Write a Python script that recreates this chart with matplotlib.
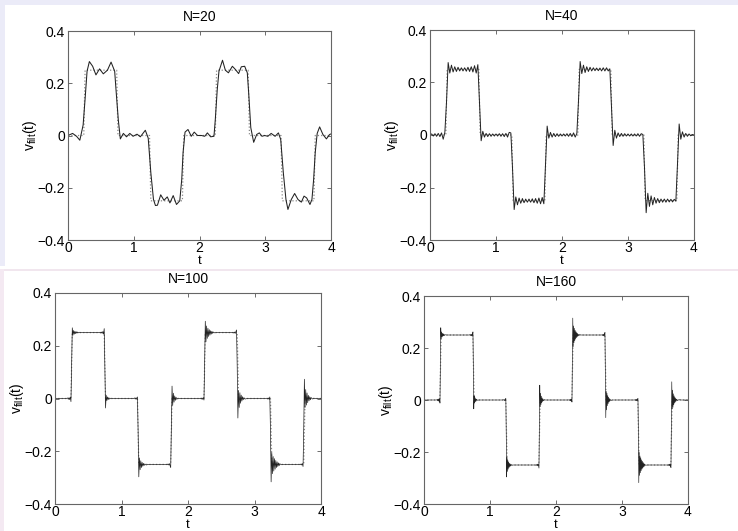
import matplotlib.pyplot as plt
import numpy as np
from matplotlib.patches import Rectangle

plt.rcParams['font.family'] = ['Liberation Sans', 'DejaVu Sans']

# ideal signal (dotted)
ref_t = [0, 0.24, 0.26, 0.74, 0.76, 1.24, 1.26, 1.74, 1.76,
         2.24, 2.26, 2.74, 2.76, 3.24, 3.26, 3.74, 3.76, 4]
ref_v = [0, 0, 0.25, 0.25, 0, 0, -0.25, -0.25, 0,
         0, 0.25, 0.25, 0, 0, -0.25, -0.25, 0, 0]

# N=20
t20 = [0, 0.07, 0.13, 0.18, 0.23, 0.26, 0.29, 0.325, 0.375, 0.425,
       0.48, 0.537, 0.6, 0.655, 0.71, 0.73, 0.765, 0.796, 0.842, 0.89,
       0.94, 0.99, 1.05, 1.1, 1.176, 1.22, 1.26, 1.3, 1.33, 1.36,
       1.41, 1.46, 1.51, 1.55, 1.6, 1.65, 1.7, 1.73, 1.75, 1.78,
       1.825, 1.875, 1.92, 1.97, 2.03, 2.08, 2.12, 2.17, 2.22, 2.24,
       2.27, 2.296, 2.35, 2.393, 2.44, 2.5, 2.545, 2.595, 2.636, 2.687,
       2.727, 2.748, 2.78, 2.824, 2.87, 2.91, 2.95, 2.99, 3.04, 3.09,
       3.15, 3.2, 3.235, 3.275, 3.315, 3.345, 3.396, 3.447, 3.498, 3.549,
       3.59, 3.63, 3.68, 3.71, 3.736, 3.76, 3.79, 3.827, 3.877, 3.93,
       3.98, 4.0]
v20 = [0, 0.008, -0.003, -0.018, 0.04, 0.14, 0.246, 0.283, 0.265, 0.232,
       0.255, 0.236, 0.25, 0.281, 0.246, 0.176, 0.06, -0.013, 0.008, -0.005,
       0.008, -0.003, 0.005, -0.005, 0.02, -0.01, -0.143, -0.245, -0.268, -0.267,
       -0.227, -0.248, -0.235, -0.258, -0.23, -0.264, -0.25, -0.168, -0.066, 0.013,
       0.023, -0.003, 0.013, 0.0, 0.0, -0.003, 0.01, -0.005, -0.003, 0.06,
       0.176, 0.246, 0.288, 0.25, 0.24, 0.265, 0.253, 0.237, 0.263, 0.265,
       0.24, 0.163, 0.03, -0.026, 0.004, 0.01, -0.003, 0.0, -0.003, 0.008,
       -0.003, 0.01, -0.015, -0.143, -0.245, -0.283, -0.245, -0.222, -0.245, -0.255,
       -0.232, -0.239, -0.264, -0.245, -0.168, -0.066, 0.008, 0.033, 0.004, -0.013,
       0.004, 0.006]

# N=40, sampled every 0.025
v40 = [0.000, 0.004, -0.004, 0.005, -0.005, 0.006, -0.006, 0.008, -0.016, 0.010,
       0.125, 0.276, 0.236, 0.266, 0.240, 0.260, 0.242, 0.258, 0.244, 0.256,
       0.244, 0.256, 0.243, 0.258, 0.242, 0.260, 0.240, 0.264, 0.236, 0.268,
       0.125, -0.022, 0.014, -0.008, 0.006, -0.006, 0.005, -0.005, 0.004, -0.004,
       0.004, -0.004, 0.005, -0.005, 0.005, -0.006, 0.006, -0.008, 0.010, 0.008,
       -0.125, -0.284, -0.236, -0.266, -0.240, -0.260, -0.242, -0.258, -0.244, -0.256,
       -0.244, -0.256, -0.243, -0.258, -0.242, -0.260, -0.240, -0.262, -0.238, -0.262,
       -0.110, 0.034, -0.012, 0.010, -0.008, 0.006, -0.006, 0.005, -0.005, 0.004,
       -0.004, 0.004, -0.004, 0.005, -0.005, 0.006, -0.006, 0.008, -0.008, 0.006,
       0.130, 0.280, 0.234, 0.266, 0.238, 0.260, 0.242, 0.258, 0.244, 0.256,
       0.245, 0.255, 0.245, 0.255, 0.244, 0.256, 0.244, 0.256, 0.244, 0.252,
       0.110, -0.040, 0.018, -0.012, 0.008, -0.006, 0.006, -0.005, 0.005, -0.004,
       0.004, -0.004, 0.004, -0.004, 0.004, -0.004, 0.005, -0.005, 0.005, 0.002,
       -0.125, -0.296, -0.222, -0.272, -0.232, -0.266, -0.238, -0.260, -0.242, -0.258,
       -0.244, -0.256, -0.244, -0.256, -0.244, -0.255, -0.245, -0.255, -0.245, -0.252,
       -0.110, 0.042, -0.016, 0.012, -0.008, 0.006, -0.005, 0.004, -0.003, 0.002,
       0.000]
t40 = np.arange(len(v40)) * 0.025
assert len(v40) == 161

# N=100
t100 = [0, 0.17, 0.19, 0.20, 0.21, 0.22, 0.23, 0.24, 0.25, 0.26, 0.27, 0.28, 0.29, 0.30,
        0.31, 0.32, 0.33, 0.34, 0.35, 0.37, 0.40, 0.65,
        0.68, 0.69, 0.70, 0.71, 0.72, 0.73, 0.74, 0.75, 0.76, 0.77, 0.78, 0.79, 0.80,
        0.81, 0.82, 0.84, 0.87, 1.18,
        1.20, 1.21, 1.22, 1.23, 1.24, 1.25, 1.26, 1.27, 1.28, 1.29, 1.30, 1.31, 1.32,
        1.33, 1.34, 1.35, 1.37, 1.40, 1.68,
        1.69, 1.70, 1.71, 1.72, 1.73, 1.74, 1.75, 1.76, 1.77, 1.78, 1.79, 1.80, 1.81,
        1.82, 1.83, 1.85, 1.88, 2.17,
        2.19, 2.20, 2.21, 2.22, 2.23, 2.24, 2.25, 2.26, 2.27, 2.28, 2.29, 2.30, 2.31,
        2.32, 2.33, 2.34, 2.35, 2.36, 2.37, 2.38, 2.40, 2.43, 2.66,
        2.68, 2.69, 2.70, 2.71, 2.72, 2.73, 2.74, 2.75, 2.76, 2.77, 2.78, 2.79, 2.80,
        2.81, 2.82, 2.83, 2.84, 2.86, 2.89, 3.17,
        3.19, 3.20, 3.21, 3.22, 3.23, 3.24, 3.25, 3.26, 3.27, 3.28, 3.29, 3.30, 3.31,
        3.32, 3.33, 3.34, 3.35, 3.36, 3.37, 3.38, 3.40, 3.43, 3.67,
        3.69, 3.70, 3.71, 3.72, 3.73, 3.74, 3.75, 3.76, 3.77, 3.78, 3.79, 3.80, 3.81,
        3.82, 3.83, 3.84, 3.85, 3.87, 3.89, 3.92, 4.0]
v100 = [0, 0, 0.002, -0.003, 0.003, -0.004, 0.005, -0.012, 0.125, 0.268, 0.24, 0.258, 0.244, 0.255,
        0.246, 0.253, 0.248, 0.252, 0.249, 0.251, 0.25, 0.25,
        0.251, 0.248, 0.252, 0.247, 0.254, 0.244, 0.265, 0.12, -0.036, 0.012, -0.008, 0.006, -0.004,
        0.003, -0.002, 0.001, 0.0, 0.0,
        0.002, -0.002, 0.003, -0.003, 0.006, -0.125, -0.297, -0.225, -0.27, -0.236, -0.262, -0.242, -0.257,
        -0.246, -0.254, -0.248, -0.252, -0.25, -0.25,
        -0.251, -0.248, -0.252, -0.247, -0.254, -0.262, -0.11, 0.047, -0.026, 0.02, -0.014, 0.01, -0.007,
        0.005, -0.003, 0.001, 0.0, 0.0,
        0.001, -0.002, 0.002, -0.003, 0.003, -0.006, 0.13, 0.293, 0.215, 0.275, 0.228, 0.266, 0.235,
        0.261, 0.24, 0.257, 0.244, 0.255, 0.247, 0.252, 0.249, 0.25, 0.25,
        0.251, 0.248, 0.252, 0.247, 0.254, 0.26, 0.12, -0.074, 0.03, -0.034, 0.022, -0.018, 0.013,
        -0.01, 0.007, -0.005, 0.003, -0.002, 0.0, 0.0,
        0.001, -0.002, 0.002, -0.003, 0.006, -0.12, -0.316, -0.205, -0.285, -0.22, -0.275, -0.228, -0.268,
        -0.235, -0.262, -0.24, -0.258, -0.244, -0.255, -0.247, -0.251, -0.25, -0.25,
        -0.251, -0.248, -0.252, -0.247, -0.258, -0.12, 0.073, -0.034, 0.034, -0.025, 0.021, -0.016, 0.012,
        -0.009, 0.007, -0.005, 0.004, -0.002, 0.001, 0.0, 0.0]
assert len(t100) == len(v100)

# N=160
t160 = [0, 0.19, 0.20, 0.206, 0.212, 0.218, 0.224, 0.23, 0.236, 0.242, 0.248, 0.254, 0.26, 0.266,
        0.272, 0.278, 0.284, 0.29, 0.296, 0.302, 0.308, 0.32, 0.34, 0.68,
        0.70, 0.706, 0.712, 0.718, 0.724, 0.73, 0.736, 0.742, 0.748, 0.754, 0.76, 0.766, 0.772,
        0.778, 0.784, 0.79, 0.796, 0.81, 0.83, 1.19,
        1.21, 1.216, 1.222, 1.228, 1.234, 1.24, 1.246, 1.252, 1.258, 1.264, 1.27, 1.276, 1.282,
        1.288, 1.294, 1.30, 1.306, 1.312, 1.318, 1.33, 1.35, 1.69,
        1.70, 1.706, 1.712, 1.718, 1.724, 1.73, 1.736, 1.742, 1.748, 1.754, 1.76, 1.766, 1.772,
        1.778, 1.784, 1.79, 1.796, 1.802, 1.808, 1.82, 1.84, 2.19,
        2.20, 2.206, 2.212, 2.218, 2.224, 2.23, 2.236, 2.242, 2.248, 2.254, 2.26, 2.266, 2.272,
        2.278, 2.284, 2.29, 2.296, 2.302, 2.308, 2.314, 2.32, 2.326, 2.332, 2.338, 2.344, 2.356,
        2.38, 2.69,
        2.70, 2.706, 2.712, 2.718, 2.724, 2.73, 2.736, 2.742, 2.748, 2.754, 2.76, 2.766, 2.772,
        2.778, 2.784, 2.79, 2.796, 2.802, 2.808, 2.814, 2.82, 2.83, 2.85, 3.19,
        3.20, 3.206, 3.212, 3.218, 3.224, 3.23, 3.236, 3.242, 3.248, 3.254, 3.26, 3.266, 3.272,
        3.278, 3.284, 3.29, 3.296, 3.302, 3.308, 3.314, 3.32, 3.326, 3.332, 3.338, 3.344, 3.356,
        3.38, 3.69,
        3.70, 3.706, 3.712, 3.718, 3.724, 3.73, 3.736, 3.742, 3.748, 3.754, 3.76, 3.766, 3.772,
        3.778, 3.784, 3.79, 3.796, 3.802, 3.808, 3.814, 3.82, 3.826, 3.84, 3.86, 3.9, 4.0]
v160 = [0, 0, 0.002, -0.003, 0.003, -0.004, 0.004, -0.005, 0.005, -0.012, 0.125, 0.278, 0.235, 0.262,
        0.242, 0.257, 0.245, 0.255, 0.247, 0.253, 0.248, 0.251, 0.25, 0.25,
        0.251, 0.248, 0.252, 0.247, 0.253, 0.246, 0.256, 0.262, 0.12, -0.034, 0.016, -0.012, 0.009,
        -0.007, 0.005, -0.004, 0.003, -0.001, 0.0, 0.0,
        0.001, -0.002, 0.002, -0.003, 0.003, 0.006, -0.125, -0.296, -0.22, -0.275, -0.232, -0.266, -0.238,
        -0.26, -0.243, -0.256, -0.246, -0.254, -0.248, -0.251, -0.25, -0.25,
        -0.251, -0.248, -0.252, -0.247, -0.253, -0.246, -0.255, -0.262, -0.1, 0.057, -0.026, 0.026, -0.018,
        0.015, -0.011, 0.008, -0.006, 0.004, -0.003, 0.001, 0.0, 0.0,
        0.001, -0.002, 0.002, -0.003, 0.003, -0.004, 0.004, -0.008, 0.14, 0.315, 0.205, 0.285, 0.22,
        0.276, 0.228, 0.268, 0.234, 0.263, 0.239, 0.259, 0.243, 0.256, 0.246, 0.253, 0.248, 0.251,
        0.25, 0.25,
        0.251, 0.248, 0.252, 0.247, 0.253, 0.246, 0.255, 0.26, 0.11, -0.068, 0.034, -0.038, 0.026,
        -0.022, 0.017, -0.014, 0.011, -0.008, 0.006, -0.005, 0.003, -0.002, 0.0, 0.0,
        0.001, -0.002, 0.002, -0.003, 0.003, -0.003, 0.004, 0.006, -0.12, -0.318, -0.2, -0.29, -0.215,
        -0.28, -0.222, -0.272, -0.23, -0.266, -0.235, -0.262, -0.24, -0.258, -0.244, -0.255, -0.247, -0.251,
        -0.25, -0.25,
        -0.251, -0.248, -0.252, -0.247, -0.253, -0.246, -0.255, -0.26, -0.1, 0.07, -0.034, 0.038, -0.028,
        0.024, -0.019, 0.016, -0.012, 0.01, -0.008, 0.006, -0.004, 0.003, -0.002, 0.001, 0.0, 0.0]
assert len(t160) == len(v160)

titles = ['N=20', 'N=40', 'N=100', 'N=160']
series = [(t20, v20), (t40, v40), (t100, v100), (t160, v160)]
widths = [0.75, 0.7, 0.5, 0.45]

# axes boxes in pixels: left, top, right, bottom
boxes = [(68, 31, 331, 240), (430, 30, 694, 240),
         (55, 293, 321, 504), (424, 296, 688, 504)]

W, H = 738, 531
fig = plt.figure(figsize=(W / 100, H / 100), dpi=100)

# screenshot margins
def band(x0, y0, x1, y1, c):
    fig.patches.append(Rectangle((x0 / W, 1 - y1 / H), (x1 - x0) / W, (y1 - y0) / H,
                                 transform=fig.transFigure, color=c, lw=0, zorder=-1))

band(0, 0, W, 5, '#ebebf8')
band(0, 0, 5, 266, '#ebebf8')
band(0, 269, W, 271, '#f1e6ee')
band(0, 269, 4, H, '#f4e9f2')

for (l, tp, r, b), title, (t, v), lw in zip(boxes, titles, series, widths):
    ax = fig.add_axes([l / W, 1 - b / H, (r - l) / W, (b - tp) / H])
    ax.plot(ref_t, ref_v, ':', color='#8a8a8a', lw=0.9)
    ax.plot(t, v, '-', color='#222222', lw=lw)
    ax.set_xlim(0, 4)
    ax.set_ylim(-0.4, 0.4)
    ax.set_xticks([0, 1, 2, 3, 4])
    ax.set_yticks([-0.4, -0.2, 0, 0.2, 0.4])
    ax.set_yticklabels(['\u22120.4', '\u22120.2', '0', '0.2', '0.4'])
    ax.tick_params(direction='in', top=True, right=True, length=3, width=0.6,
                   labelsize=10, pad=2, color='#555555')
    ax.tick_params(axis='x', pad=1)
    for s in ax.spines.values():
        s.set_color('#666666')
        s.set_linewidth(0.8)
    ax.set_title(title, fontsize=10, pad=7)
    ax.set_xlabel('t', fontsize=9.5, labelpad=0)
    ax.set_ylabel(r'v$_{\mathregular{filt}}$(t)', fontsize=10, labelpad=-1)

fig.savefig('out.png', dpi=100)
